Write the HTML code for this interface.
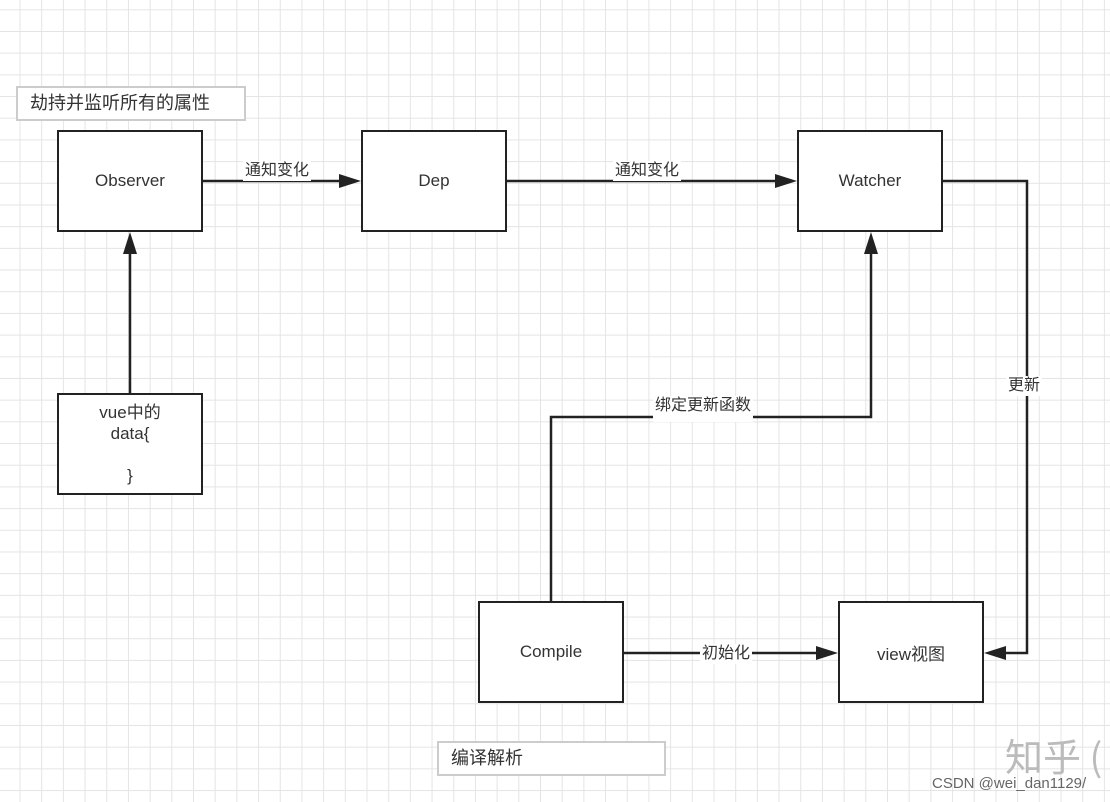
<!DOCTYPE html>
<html><head><meta charset="utf-8"><style>
html,body{margin:0;padding:0}
body{width:1110px;height:802px;overflow:hidden;background-color:#fff;
background-image:linear-gradient(to right,#e4e4e4 1px,transparent 1px),linear-gradient(to bottom,#e4e4e4 1px,transparent 1px);
background-size:21.7px 21.7px;background-position:19.5px 9.3px;position:relative;
font-family:"Liberation Sans","Noto Sans CJK SC",sans-serif;}
.b{position:absolute;box-sizing:border-box;border:2px solid #222;background:#fff;display:flex;align-items:center;justify-content:center;text-align:center;font-size:17px;color:#333;width:146px;height:102px}
.n{position:absolute;box-sizing:border-box;border:2px solid #ccc;background:#fff;font-size:18px;color:#333;padding-left:12px;line-height:31px;height:35px}
.l{position:absolute;font-size:16px;color:#333;background:#fff;line-height:20px;padding:0 2px}
</style></head><body>
<svg width="1110" height="802" style="position:absolute;left:0;top:0">
<g stroke="#222" stroke-width="2.5" fill="none">
<line x1="203" y1="181" x2="345" y2="181"/>
<line x1="507" y1="181" x2="782" y2="181"/>
<polyline points="943,181 1027,181 1027,653 999,653"/>
<line x1="130" y1="393" x2="130" y2="248"/>
<polyline points="551,601 551,417 871,417 871,248"/>
<line x1="624" y1="653" x2="823" y2="653"/>
</g>
<g fill="#222">
<polygon points="361,181 339,174 339,188"/>
<polygon points="797,181 775,174 775,188"/>
<polygon points="984,653 1006,646 1006,660"/>
<polygon points="130,232 123,254 137,254"/>
<polygon points="871,232 864,254 878,254"/>
<polygon points="838,653 816,646 816,660"/>
</g>
</svg>
<div class="n" style="left:16px;top:86px;width:230px">劫持并监听所有的属性</div>
<div class="n" style="left:437px;top:741px;width:229px">编译解析</div>
<div class="b" style="left:57px;top:130px">Observer</div>
<div class="b" style="left:361px;top:130px">Dep</div>
<div class="b" style="left:797px;top:130px">Watcher</div>
<div class="b" style="left:57px;top:393px;line-height:21px">vue中的<br>data{<br><br>}</div>
<div class="b" style="left:478px;top:601px">Compile</div>
<div class="b" style="left:838px;top:601px">view视图</div>
<div class="l" style="left:243px;top:161px">通知变化</div>
<div class="l" style="left:613px;top:161px">通知变化</div>
<div class="l" style="left:1006px;top:376px">更新</div>
<div class="l" style="left:653px;top:396px;padding:0 2px 6px">绑定更新函数</div>
<div class="l" style="left:700px;top:644px">初始化</div>
<div style="position:absolute;left:1005px;top:727px;font-size:38px;color:#bbb;font-family:'Noto Sans CJK SC',sans-serif">知乎 (</div>
<div style="position:absolute;left:932px;top:775px;font-size:15px;color:#666">CSDN @wei_dan1129/</div>
</body></html>
